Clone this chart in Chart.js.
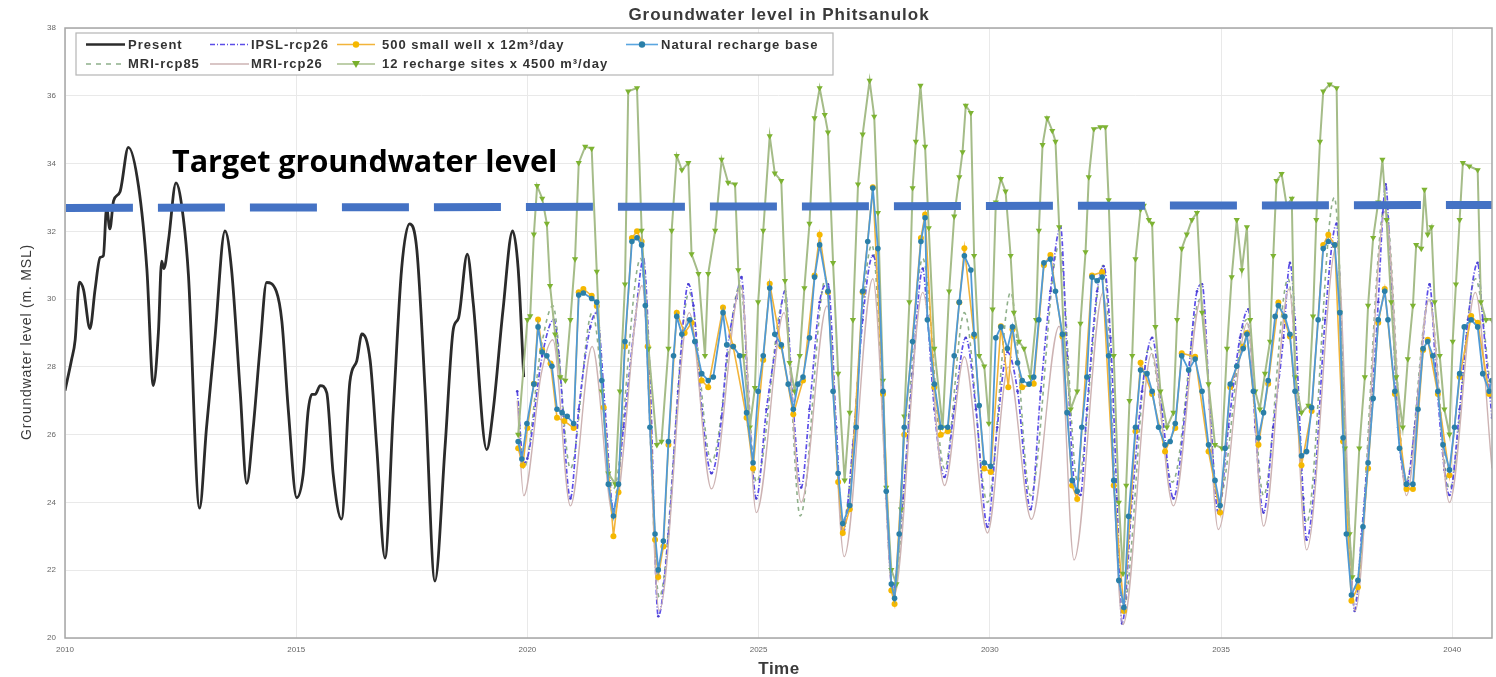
<!DOCTYPE html>
<html>
<head>
<meta charset="utf-8">
<title>Groundwater level in Phitsanulok</title>
<script src="https://cdn.jsdelivr.net/npm/chart.js@4.4.1/dist/chart.umd.min.js"></script>
<style>
  html, body { margin: 0; padding: 0; background: #fff; }
  #chart { display: block; }
</style>
</head>
<body>
<canvas id="chart" width="1496" height="677"></canvas>
<script>
// values: [year, level m. MSL]
const xTicks = [2010, 2015, 2020, 2025, 2030, 2035, 2040];
const yTicks = [20, 22, 24, 26, 28, 30, 32, 34, 36, 38];

const present = [
    [2010.0, 27.3], [2010.14, 28.2], [2010.22, 28.8], [2010.31, 30.5], [2010.4, 30.28], [2010.54, 29.13],
    [2010.65, 30.28], [2010.76, 31.23], [2010.83, 31.28], [2010.9, 32.7], [2010.97, 32.07], [2011.05, 32.9],
    [2011.19, 33.17], [2011.37, 34.48], [2011.59, 33.33], [2011.77, 30.9], [2011.91, 27.45], [2012.02, 29.02],
    [2012.09, 31.12], [2012.14, 30.9], [2012.24, 31.75], [2012.4, 33.43], [2012.56, 32.38], [2012.67, 30.7],
    [2012.91, 23.83], [2013.06, 26.2], [2013.24, 28.81], [2013.46, 32.01], [2013.6, 30.9], [2013.79, 27.24],
    [2013.93, 24.56], [2014.07, 26.2], [2014.22, 28.6], [2014.36, 30.49], [2014.57, 30.23], [2014.69, 29.34],
    [2014.83, 26.72], [2015.01, 24.14], [2015.15, 24.83], [2015.26, 26.72], [2015.34, 27.19], [2015.41, 27.19],
    [2015.52, 27.45], [2015.66, 27.24], [2015.8, 24.83], [2015.98, 23.51], [2016.16, 27.55], [2016.31, 28.18],
    [2016.42, 28.97], [2016.6, 28.18], [2016.74, 25.66], [2016.92, 22.36], [2017.1, 26.72], [2017.28, 30.9],
    [2017.45, 32.22], [2017.61, 31.44], [2017.79, 27.24], [2018.0, 21.68], [2018.22, 25.66], [2018.4, 29.13],
    [2018.51, 29.44], [2018.7, 31.33], [2018.83, 29.86], [2019.12, 25.56], [2019.26, 26.72], [2019.47, 29.65],
    [2019.68, 32.01], [2019.8, 30.9], [2019.92, 27.7]
];

const mriRcp85 = [
    [2019.8, 27.0], [2019.92, 25.0], [2020.3, 28.6], [2020.55, 29.8], [2020.93, 25.0], [2021.4, 29.6],
    [2021.86, 24.4], [2022.45, 31.2], [2022.85, 21.2], [2023.5, 30.2], [2023.98, 25.2], [2024.6, 30.4],
    [2024.95, 24.6], [2025.55, 30.0], [2025.9, 23.6], [2026.45, 30.6], [2026.82, 23.4], [2027.45, 31.6],
    [2027.92, 21.4], [2028.55, 31.2], [2029.02, 25.0], [2029.45, 29.6], [2029.95, 24.0], [2030.45, 30.2],
    [2030.88, 24.2], [2031.5, 31.6], [2031.9, 24.6], [2032.45, 31.0], [2032.88, 20.8], [2033.45, 28.6],
    [2033.95, 24.6], [2034.55, 30.0], [2034.95, 24.0], [2035.55, 29.4], [2035.92, 24.2], [2036.45, 30.6],
    [2036.85, 23.4], [2037.45, 33.0], [2037.88, 21.0], [2038.55, 32.8], [2039.0, 24.6], [2039.5, 30.0],
    [2039.94, 24.4], [2040.5, 30.6], [2040.86, 27.0]
];

const ipslRcp26 = [
    [2019.78, 27.28], [2019.92, 25.17], [2020.0, 25.3], [2020.32, 28.33], [2020.57, 29.39], [2020.68, 28.33],
    [2020.93, 24.12], [2021.11, 26.75], [2021.36, 29.18], [2021.5, 29.6], [2021.68, 26.75], [2021.86, 23.8],
    [2022.08, 26.22], [2022.33, 29.39], [2022.51, 31.18], [2022.65, 27.8], [2022.83, 20.64], [2023.05, 23.07],
    [2023.26, 27.28], [2023.48, 30.44], [2023.59, 29.81], [2023.77, 26.75], [2023.98, 24.86], [2024.2, 26.5],
    [2024.31, 28.33], [2024.52, 30.02], [2024.63, 30.65], [2024.77, 27.28], [2024.95, 24.12], [2025.17, 26.75],
    [2025.39, 28.75], [2025.57, 30.23], [2025.75, 26.75], [2025.92, 24.44], [2026.1, 26.75], [2026.32, 29.91],
    [2026.5, 30.44], [2026.68, 26.22], [2026.82, 23.07], [2027.04, 25.7], [2027.25, 29.39], [2027.47, 31.28],
    [2027.61, 29.91], [2027.76, 24.12], [2027.9, 21.38], [2028.12, 24.12], [2028.33, 27.8], [2028.55, 30.9],
    [2028.65, 29.5], [2028.8, 26.75], [2029.02, 24.75], [2029.23, 26.75], [2029.48, 28.86], [2029.7, 26.75],
    [2029.95, 23.28], [2030.16, 26.22], [2030.38, 28.44], [2030.6, 27.28], [2030.88, 23.8], [2031.1, 27.28],
    [2031.31, 30.23], [2031.53, 32.13], [2031.67, 28.33], [2031.82, 24.65], [2031.96, 24.22], [2032.1, 26.75],
    [2032.32, 30.23], [2032.46, 30.97], [2032.61, 28.86], [2032.75, 24.12], [2032.86, 20.43], [2033.08, 24.12],
    [2033.29, 27.28], [2033.51, 28.86], [2033.72, 26.75], [2033.97, 24.12], [2034.23, 26.75], [2034.48, 30.23],
    [2034.59, 30.44], [2034.76, 26.75], [2034.94, 23.7], [2035.16, 26.22], [2035.41, 28.86], [2035.59, 29.7],
    [2035.74, 26.22], [2035.92, 23.7], [2036.13, 26.22], [2036.35, 28.86], [2036.49, 31.07], [2036.6, 29.39],
    [2036.78, 24.12], [2036.85, 22.9], [2037.03, 24.65], [2037.25, 29.39], [2037.5, 32.23], [2037.64, 27.28],
    [2037.78, 23.07], [2037.89, 20.8], [2038.04, 23.07], [2038.22, 26.22], [2038.4, 29.91], [2038.5, 32.55],
    [2038.56, 33.39], [2038.68, 30.44], [2038.83, 26.22], [2039.01, 24.54], [2039.19, 26.22], [2039.37, 28.86],
    [2039.51, 30.44], [2039.65, 27.8], [2039.83, 24.96], [2039.94, 24.22], [2040.16, 26.75], [2040.34, 29.39],
    [2040.55, 31.07], [2040.66, 29.39], [2040.86, 26.5]
];

const mriRcp26 = [
    [2019.78, 27.0], [2019.92, 24.2], [2020.3, 27.8], [2020.55, 28.8], [2020.93, 23.9], [2021.4, 28.6],
    [2021.86, 23.6], [2022.48, 30.4], [2022.85, 20.8], [2023.5, 29.6], [2023.98, 24.4], [2024.62, 30.4],
    [2024.95, 23.7], [2025.55, 29.6], [2025.92, 24.0], [2026.48, 29.8], [2026.85, 22.4], [2027.47, 30.6],
    [2027.92, 21.2], [2028.55, 30.2], [2029.02, 24.5], [2029.45, 28.3], [2029.95, 23.1], [2030.4, 28.0],
    [2030.9, 23.5], [2031.5, 29.2], [2031.82, 22.3], [2032.45, 30.2], [2032.88, 20.4], [2033.5, 28.4],
    [2033.97, 23.9], [2034.57, 30.0], [2034.94, 23.2], [2035.57, 29.3], [2035.92, 23.3], [2036.47, 30.3],
    [2036.85, 22.6], [2037.5, 31.6], [2037.9, 20.8], [2038.55, 32.6], [2039.01, 24.2], [2039.5, 30.0],
    [2039.94, 24.0], [2040.5, 30.2], [2040.86, 25.0]
];

const smallWell500 = [
    [2019.8, 25.6], [2019.9, 25.1], [2020.0, 26.2], [2020.14, 27.5], [2020.23, 29.4], [2020.32, 28.5],
    [2020.5, 28.1], [2020.64, 26.5], [2020.8, 26.4], [2021.0, 26.2], [2021.11, 30.2], [2021.21, 30.3],
    [2021.39, 30.1], [2021.5, 29.8], [2021.65, 26.8], [2021.86, 23.0], [2021.97, 24.3], [2022.11, 28.6],
    [2022.26, 31.8], [2022.37, 32.0], [2022.47, 31.7], [2022.6, 28.6], [2022.76, 22.9], [2022.83, 21.8],
    [2022.94, 22.7], [2023.05, 25.7], [2023.23, 29.6], [2023.4, 29.0], [2023.55, 29.3], [2023.77, 27.6],
    [2023.91, 27.4], [2024.23, 29.75], [2024.45, 28.6], [2024.74, 26.5], [2024.88, 25.0], [2025.1, 28.2],
    [2025.24, 30.45], [2025.49, 28.6], [2025.75, 26.6], [2025.96, 27.6], [2026.21, 30.7], [2026.32, 31.9],
    [2026.5, 30.2], [2026.72, 24.6], [2026.82, 23.1], [2026.97, 23.8], [2027.25, 30.2], [2027.47, 33.3],
    [2027.69, 27.2], [2027.87, 21.4], [2027.94, 21.0], [2028.15, 26.0], [2028.51, 31.8], [2028.6, 32.5],
    [2028.8, 27.4], [2028.94, 26.0], [2029.09, 26.1], [2029.34, 29.9], [2029.45, 31.5], [2029.66, 28.9],
    [2029.88, 25.0], [2030.02, 24.9], [2030.24, 29.2], [2030.4, 27.4], [2030.49, 29.1], [2030.7, 27.4],
    [2030.95, 27.5], [2031.17, 31.0], [2031.31, 31.3], [2031.57, 28.9], [2031.78, 24.5], [2031.89, 24.1],
    [2032.21, 30.7], [2032.43, 30.8], [2032.68, 24.5], [2032.9, 20.8], [2033.15, 26.1], [2033.26, 28.12],
    [2033.51, 27.2], [2033.79, 25.5], [2034.01, 26.2], [2034.15, 28.4], [2034.44, 28.3], [2034.73, 25.5],
    [2034.98, 23.7], [2035.2, 27.4], [2035.48, 28.6], [2035.56, 29.0], [2035.81, 25.7], [2036.02, 27.5],
    [2036.24, 29.9], [2036.49, 28.9], [2036.74, 25.1], [2036.96, 26.7], [2037.21, 31.6], [2037.32, 31.9],
    [2037.46, 31.6], [2037.64, 25.8], [2037.82, 21.1], [2037.96, 21.5], [2038.18, 25.0], [2038.4, 29.3],
    [2038.54, 30.3], [2038.76, 27.2], [2039.01, 24.4], [2039.15, 24.4], [2039.37, 28.5], [2039.47, 28.8],
    [2039.69, 27.2], [2039.94, 24.8], [2040.16, 27.7], [2040.41, 29.5], [2040.55, 29.3], [2040.8, 27.2]
];

const recharge12 = [
    [2019.8, 26.0], [2020.0, 29.39], [2020.06, 29.5], [2020.14, 31.91], [2020.21, 33.34], [2020.32, 32.97],
    [2020.42, 32.23], [2020.49, 30.39], [2020.6, 28.96], [2020.71, 27.7], [2020.82, 27.6], [2020.93, 29.39],
    [2021.03, 31.18], [2021.11, 34.02], [2021.25, 34.5], [2021.39, 34.44], [2021.5, 30.81], [2021.61, 27.28],
    [2021.75, 24.86], [2021.9, 24.54], [2022.0, 27.28], [2022.11, 30.44], [2022.18, 36.13], [2022.37, 36.23],
    [2022.47, 32.02], [2022.62, 28.54], [2022.8, 25.7], [2022.9, 25.8], [2023.05, 28.54], [2023.12, 32.02],
    [2023.23, 34.23], [2023.34, 33.81], [2023.48, 34.02], [2023.55, 31.33], [2023.7, 30.75], [2023.84, 28.33],
    [2023.91, 30.75], [2024.06, 32.02], [2024.2, 34.12], [2024.34, 33.44], [2024.49, 33.39], [2024.56, 30.86],
    [2024.67, 28.33], [2024.81, 26.22], [2024.92, 27.38], [2024.99, 29.91], [2025.1, 32.02], [2025.24, 34.81],
    [2025.35, 33.71], [2025.49, 33.49], [2025.57, 30.54], [2025.67, 28.12], [2025.78, 27.28], [2025.89, 28.33],
    [2025.99, 30.33], [2026.1, 32.23], [2026.21, 35.34], [2026.32, 36.23], [2026.43, 35.44], [2026.5, 34.92],
    [2026.61, 31.07], [2026.72, 27.8], [2026.86, 24.65], [2026.97, 26.65], [2027.04, 29.39], [2027.15, 33.39],
    [2027.25, 34.86], [2027.4, 36.45], [2027.5, 35.39], [2027.58, 32.55], [2027.69, 27.6], [2027.76, 24.44],
    [2027.87, 22.01], [2027.98, 21.59], [2028.08, 23.8], [2028.15, 26.54], [2028.26, 29.91], [2028.33, 33.28],
    [2028.4, 34.65], [2028.5, 36.3], [2028.6, 34.5], [2028.68, 32.1], [2028.8, 28.54], [2028.98, 26.22],
    [2029.12, 30.23], [2029.23, 32.44], [2029.34, 33.6], [2029.41, 34.34], [2029.48, 35.71], [2029.59, 35.5],
    [2029.66, 31.28], [2029.77, 28.33], [2029.88, 28.02], [2029.98, 26.33], [2030.06, 29.7], [2030.13, 32.86],
    [2030.24, 33.55], [2030.34, 33.18], [2030.45, 31.28], [2030.52, 29.6], [2030.63, 28.75], [2030.74, 28.54],
    [2030.88, 27.7], [2031.0, 29.39], [2031.06, 32.02], [2031.14, 34.55], [2031.24, 35.34], [2031.35, 34.97],
    [2031.42, 34.65], [2031.5, 32.13], [2031.6, 28.96], [2031.75, 26.75], [2031.89, 27.28], [2031.96, 29.28],
    [2032.07, 31.39], [2032.14, 33.6], [2032.25, 35.02], [2032.39, 35.08], [2032.5, 35.08], [2032.57, 32.92],
    [2032.68, 28.33], [2032.79, 24.0], [2032.88, 21.9], [2032.95, 24.5], [2033.02, 27.0], [2033.08, 28.33],
    [2033.15, 31.18], [2033.26, 32.65], [2033.33, 32.76], [2033.44, 32.34], [2033.51, 32.23], [2033.58, 29.18],
    [2033.69, 27.28], [2033.83, 26.22], [2033.97, 26.65], [2034.05, 29.39], [2034.15, 31.49], [2034.26, 31.91],
    [2034.37, 32.34], [2034.48, 32.55], [2034.59, 29.6], [2034.73, 27.49], [2034.87, 25.7], [2035.02, 25.6],
    [2035.13, 28.54], [2035.23, 30.65], [2035.34, 32.34], [2035.45, 30.86], [2035.56, 32.13], [2035.63, 29.39],
    [2035.74, 27.28], [2035.84, 26.75], [2035.95, 27.8], [2036.06, 28.75], [2036.13, 31.28], [2036.2, 33.49],
    [2036.31, 33.7], [2036.42, 32.76], [2036.53, 32.97], [2036.6, 27.7], [2036.74, 26.65], [2036.89, 26.86],
    [2036.99, 29.49], [2037.06, 32.34], [2037.14, 34.65], [2037.21, 36.13], [2037.35, 36.34], [2037.5, 36.23],
    [2037.57, 29.6], [2037.68, 25.6], [2037.78, 23.07], [2037.84, 21.8], [2037.99, 25.6], [2038.11, 27.7],
    [2038.18, 29.81], [2038.29, 31.81], [2038.4, 32.86], [2038.49, 34.12], [2038.58, 32.34], [2038.68, 29.91],
    [2038.79, 27.7], [2038.93, 26.22], [2039.04, 28.23], [2039.15, 29.81], [2039.22, 31.6], [2039.33, 31.49],
    [2039.4, 33.23], [2039.47, 31.91], [2039.55, 32.13], [2039.62, 29.91], [2039.73, 28.33], [2039.83, 26.75],
    [2039.94, 26.01], [2040.01, 28.75], [2040.08, 30.44], [2040.16, 32.34], [2040.23, 34.02], [2040.37, 33.92],
    [2040.55, 33.81], [2040.62, 29.91], [2040.73, 29.39], [2040.86, 29.39]
];

const naturalBase = [
    [2019.8, 25.8], [2019.88, 25.28], [2019.99, 26.33], [2020.14, 27.49], [2020.23, 29.18], [2020.32, 28.44],
    [2020.42, 28.33], [2020.53, 28.02], [2020.64, 26.75], [2020.75, 26.65], [2020.86, 26.54], [2021.0, 26.33],
    [2021.11, 30.12], [2021.21, 30.18], [2021.39, 30.02], [2021.5, 29.91], [2021.61, 27.6], [2021.75, 24.54],
    [2021.86, 23.6], [2021.97, 24.54], [2022.11, 28.75], [2022.26, 31.7], [2022.37, 31.81], [2022.47, 31.6],
    [2022.55, 29.81], [2022.65, 26.22], [2022.76, 23.07], [2022.83, 22.01], [2022.94, 22.86], [2023.05, 25.8],
    [2023.16, 28.33], [2023.23, 29.49], [2023.34, 28.96], [2023.51, 29.39], [2023.62, 28.75], [2023.77, 27.8],
    [2023.91, 27.6], [2024.02, 27.7], [2024.23, 29.6], [2024.31, 28.65], [2024.45, 28.6], [2024.59, 28.33],
    [2024.74, 26.65], [2024.88, 25.17], [2024.99, 27.28], [2025.1, 28.33], [2025.24, 30.33], [2025.35, 28.96],
    [2025.49, 28.65], [2025.64, 27.49], [2025.75, 26.75], [2025.85, 27.49], [2025.96, 27.7], [2026.1, 28.86],
    [2026.21, 30.65], [2026.32, 31.6], [2026.5, 30.23], [2026.61, 27.28], [2026.72, 24.86], [2026.82, 23.38],
    [2026.97, 23.91], [2027.11, 26.22], [2027.25, 30.23], [2027.36, 31.7], [2027.47, 33.28], [2027.58, 31.49],
    [2027.69, 27.28], [2027.76, 24.33], [2027.87, 21.59], [2027.94, 21.17], [2028.04, 23.07], [2028.15, 26.22],
    [2028.33, 28.75], [2028.51, 31.7], [2028.6, 32.4], [2028.65, 29.39], [2028.8, 27.49], [2028.94, 26.22],
    [2029.09, 26.22], [2029.23, 28.33], [2029.34, 29.91], [2029.45, 31.28], [2029.59, 30.86], [2029.66, 28.96],
    [2029.77, 26.86], [2029.88, 25.17], [2030.02, 25.07], [2030.13, 28.86], [2030.24, 29.18], [2030.38, 28.54],
    [2030.49, 29.18], [2030.6, 28.12], [2030.7, 27.6], [2030.85, 27.49], [2030.95, 27.7], [2031.06, 29.39],
    [2031.17, 31.07], [2031.31, 31.18], [2031.42, 30.23], [2031.57, 28.96], [2031.67, 26.65], [2031.78, 24.65],
    [2031.89, 24.33], [2031.99, 26.22], [2032.1, 27.7], [2032.21, 30.65], [2032.32, 30.54], [2032.43, 30.65],
    [2032.57, 28.33], [2032.68, 24.65], [2032.79, 21.7], [2032.9, 20.9], [2033.0, 23.59], [2033.15, 26.22],
    [2033.26, 27.91], [2033.4, 27.8], [2033.51, 27.28], [2033.65, 26.22], [2033.79, 25.7], [2033.9, 25.8],
    [2034.01, 26.33], [2034.15, 28.33], [2034.3, 27.91], [2034.44, 28.23], [2034.59, 27.28], [2034.73, 25.7],
    [2034.87, 24.65], [2034.98, 23.91], [2035.09, 25.6], [2035.2, 27.49], [2035.34, 28.02], [2035.48, 28.54],
    [2035.56, 28.96], [2035.7, 27.28], [2035.81, 25.91], [2035.92, 26.65], [2036.02, 27.6], [2036.17, 29.49],
    [2036.24, 29.81], [2036.38, 29.49], [2036.49, 28.96], [2036.6, 27.28], [2036.74, 25.38], [2036.85, 25.5],
    [2036.96, 26.8], [2037.1, 29.39], [2037.21, 31.49], [2037.32, 31.7], [2037.46, 31.6], [2037.57, 29.6],
    [2037.64, 25.91], [2037.71, 23.07], [2037.82, 21.27], [2037.96, 21.7], [2038.07, 23.28], [2038.18, 25.17],
    [2038.29, 27.07], [2038.4, 29.39], [2038.54, 30.23], [2038.61, 29.39], [2038.76, 27.28], [2038.86, 25.6],
    [2039.01, 24.54], [2039.15, 24.54], [2039.26, 26.75], [2039.37, 28.54], [2039.47, 28.75], [2039.58, 28.33],
    [2039.69, 27.28], [2039.8, 25.7], [2039.94, 24.96], [2040.05, 26.22], [2040.16, 27.8], [2040.26, 29.18],
    [2040.41, 29.39], [2040.55, 29.18], [2040.66, 27.8], [2040.8, 27.28], [2040.86, 27.6]
];

// dashed "target" line drawn over the plot
const targetLine = [[2010.02, 32.69], [2040.86, 32.78]];

const X_MIN = 2010, X_MAX = 2040.86;

const toXY = (arr) => arr.map(([x, y]) => ({ x, y }));

const legendItems = [
    { col: 0, row: 0, text: "Present", color: "#2b2b2b", width: 2.6 },
    { col: 0, row: 1, text: "MRI-rcp85", color: "#8fb08a", width: 1.6, dash: [5, 5] },
    { col: 1, row: 0, text: "IPSL-rcp26", color: "#5b4de8", width: 1.6, dash: [5, 2, 1, 2] },
    { col: 1, row: 1, text: "MRI-rcp26", color: "#cdb3b3", width: 1.4 },
    { col: 2, row: 0, text: "500 small well x 12m\u00b3/day", color: "#f2b43a", width: 1.6, marker: "circle", markerColor: "#f5b800" },
    { col: 2, row: 1, text: "12 recharge sites x 4500 m\u00b3/day", color: "#a9bf8e", width: 1.6, marker: "tri", markerColor: "#78b02a" },
    { col: 3, row: 0, text: "Natural recharge base", color: "#5aa6e0", width: 1.6, marker: "circle", markerColor: "#2a7fa8" },
];
const legendCols = [{ x1: 86, x2: 125, tx: 128 }, { x1: 210, x2: 249, tx: 251 }, { x1: 337, x2: 375, tx: 382 }, { x1: 626, x2: 658, tx: 661 }];

const overlayPlugin = {
    id: "overlay",
    afterDatasetsDraw(chart) {
        const { ctx, chartArea: a } = chart;
        ctx.save();

        // axes box
        ctx.strokeStyle = "#a6a6a6";
        ctx.lineWidth = 1.5;
        ctx.strokeRect(a.left, a.top, a.right - a.left, a.bottom - a.top);

        // legend box
        ctx.fillStyle = "#fff";
        ctx.fillRect(76, 33, 757, 42);
        ctx.strokeStyle = "#b5b5b5";
        ctx.lineWidth = 1.2;
        ctx.strokeRect(76, 33, 757, 42);
        ctx.font = "bold 13px 'Liberation Sans', Arial, sans-serif";
        ctx.letterSpacing = "1px";
        ctx.textBaseline = "middle";
        legendItems.forEach((it) => {
            const c = legendCols[it.col];
            const y = it.row === 0 ? 44.5 : 64;
            ctx.strokeStyle = it.color;
            ctx.lineWidth = it.width;
            ctx.setLineDash(it.dash || []);
            ctx.beginPath();
            ctx.moveTo(c.x1, y);
            ctx.lineTo(c.x2, y);
            ctx.stroke();
            ctx.setLineDash([]);
            const mx = (c.x1 + c.x2) / 2;
            if (it.marker === "circle") {
                ctx.fillStyle = it.markerColor;
                ctx.beginPath();
                ctx.arc(mx, y, 3.2, 0, Math.PI * 2);
                ctx.fill();
            } else if (it.marker === "tri") {
                ctx.fillStyle = it.markerColor;
                ctx.beginPath();
                ctx.moveTo(mx - 4, y - 3);
                ctx.lineTo(mx + 4, y - 3);
                ctx.lineTo(mx, y + 4);
                ctx.closePath();
                ctx.fill();
            }
            ctx.fillStyle = "#333";
            ctx.fillText(it.text, c.tx, y + 0.5);
        });

        // annotation text
        ctx.letterSpacing = "0px";
        ctx.fillStyle = "#000";
        ctx.font = "bold 30.5px 'Open Sans', 'Noto Sans', sans-serif";
        ctx.textBaseline = "alphabetic";
        ctx.fillText("Target groundwater level", 172, 172);

        // titles
        ctx.fillStyle = "#3a3a3a";
        ctx.textAlign = "center";
        ctx.letterSpacing = "1px";
        ctx.font = "bold 17px 'Liberation Sans', Arial, sans-serif";
        ctx.fillText("Groundwater level in Phitsanulok", 779, 20);
        ctx.letterSpacing = "0.5px";
        ctx.font = "bold 17px 'Liberation Sans', Arial, sans-serif";
        ctx.fillText("Time", 779, 674);
        ctx.translate(31, 342);
        ctx.rotate(-Math.PI / 2);
        ctx.letterSpacing = "0.8px";
        ctx.font = "14px 'Liberation Sans', Arial, sans-serif";
        ctx.fillText("Groundwater level (m. MSL)", 0, 0);
        ctx.restore();
    },
};

const common = { fill: false, spanGaps: true };

new Chart(document.getElementById("chart"), {
    type: "line",
    data: {
        datasets: [
            { ...common, label: "target", data: toXY(targetLine), borderColor: "#4472C4", borderWidth: 8,
              borderDash: [67, 25], borderCapStyle: "butt", pointRadius: 0, order: 0 },
            { ...common, label: "Natural recharge base", data: toXY(naturalBase), borderColor: "#4f9ad6", borderWidth: 1.8,
              pointRadius: 2.8, pointStyle: "circle", pointBackgroundColor: "#2a7fa8", pointBorderColor: "#2a7fa8",
              pointBorderWidth: 0, tension: 0, order: 1 },
            { ...common, label: "12 recharge sites x 4500 m\u00b3/day", data: toXY(recharge12), borderColor: "#a5bc88", borderWidth: 2,
              pointRadius: 3.6, pointStyle: "triangle", pointRotation: 180, pointBackgroundColor: "#7db332",
              pointBorderColor: "#7db332", pointBorderWidth: 0, tension: 0, order: 2 },
            { ...common, label: "500 small well x 12m\u00b3/day", data: toXY(smallWell500), borderColor: "#f2b43a", borderWidth: 1.6,
              pointRadius: 3, pointStyle: "circle", pointBackgroundColor: "#f5b800", pointBorderColor: "#f5b800",
              pointBorderWidth: 0, tension: 0, order: 3 },
            { ...common, label: "MRI-rcp26", data: toXY(mriRcp26), borderColor: "#cdb3b3", borderWidth: 1.4,
              pointRadius: 0, cubicInterpolationMode: "monotone", order: 4 },
            { ...common, label: "IPSL-rcp26", data: toXY(ipslRcp26), borderColor: "#5b4de8", borderWidth: 1.7,
              borderDash: [5, 2, 1, 2], pointRadius: 1.3, pointBackgroundColor: "#4a3fd0", pointBorderWidth: 0,
              cubicInterpolationMode: "monotone", order: 5 },
            { ...common, label: "MRI-rcp85", data: toXY(mriRcp85), borderColor: "#8fb08a", borderWidth: 1.6,
              borderDash: [4, 4], pointRadius: 0, cubicInterpolationMode: "monotone", order: 6 },
            { ...common, label: "Present", data: toXY(present), borderColor: "#2b2b2b", borderWidth: 2.8,
              pointRadius: 0, cubicInterpolationMode: "monotone", order: 7 },
        ],
    },
    options: {
        responsive: false,
        animation: false,
        devicePixelRatio: 1,
        layout: { padding: { top: 28, right: 3, left: 0, bottom: 0 } },
        plugins: { legend: { display: false }, tooltip: { enabled: false }, title: { display: false } },
        scales: {
            x: {
                type: "linear",
                min: X_MIN,
                max: X_MAX,
                afterBuildTicks: (s) => { s.ticks = xTicks.map((v) => ({ value: v })); },
                afterFit: (s) => { s.height = 39; },
                ticks: { font: { size: 8, family: "'Liberation Sans', Arial" }, color: "#666", padding: 7,
                         maxRotation: 0, callback: (v) => String(v) },
                grid: { color: "#e9e9e9", drawTicks: false, lineWidth: 1 },
                border: { display: false },
            },
            y: {
                min: 20,
                max: 38,
                afterBuildTicks: (s) => { s.ticks = yTicks.map((v) => ({ value: v })); },
                afterFit: (s) => { s.width = 65; },
                ticks: { font: { size: 8, family: "'Liberation Sans', Arial" }, color: "#666", padding: 9 },
                grid: { color: "#e9e9e9", drawTicks: false, lineWidth: 1 },
                border: { display: false },
            },
        },
    },
    plugins: [overlayPlugin],
});
</script>
</body>
</html>
